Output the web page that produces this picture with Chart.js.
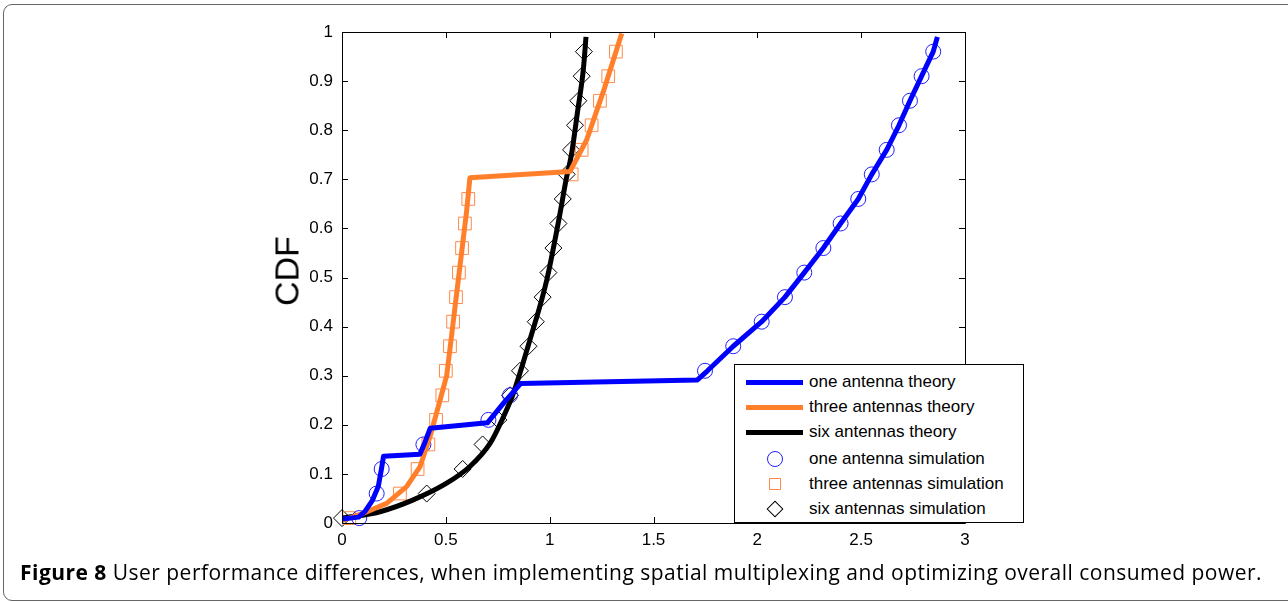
<!DOCTYPE html>
<html>
<head>
<meta charset="utf-8">
<script src="https://cdn.jsdelivr.net/npm/chart.js@4.4.1/dist/chart.umd.min.js"></script>
<style>
  html, body { margin: 0; padding: 0; background: #fff; overflow: hidden; }
  #wrap { position: relative; width: 1288px; height: 602px; }
  #frame { position: absolute; left: 3px; top: 4px; width: 1300px; height: 597px; border: 1.5px solid #666;
           border-radius: 9px; box-sizing: border-box; }
  canvas { position: absolute; left: 0; top: 0; }
  #ylabel { position: absolute; left: 287px; top: 271px; transform: translate(-50%, -50%) rotate(-90deg);
            font: 34px "Liberation Sans", Arial, sans-serif; color: #000; white-space: nowrap; }
  #legend { position: absolute; left: 734px; top: 364px; width: 290px; height: 159px; border: 1px solid #000;
            background: #fff; box-sizing: border-box; font: 17px "Liberation Sans", Arial, sans-serif; color: #000; }
  .row { position: absolute; left: 0; width: 100%; height: 24px; }
  .row span { position: absolute; left: 74px; top: 0; line-height: 24px; white-space: nowrap; }
  .swatch { position: absolute; left: 11px; top: 9.5px; width: 57px; height: 5px; }
  .mk { position: absolute; box-sizing: border-box; }
  #caption { position: absolute; left: 20px; top: 558px; font: 21px "Open Sans", sans-serif; white-space: nowrap; color: #000; }
  #caption b { font-weight: 700; }
</style>
</head>
<body>
<div id="wrap">
  <div id="frame"></div>
  <canvas id="cdf" width="1288" height="602"></canvas>
  <div id="ylabel">CDF</div>
  <div id="legend"></div>
  <div id="caption"><b>Figure 8</b> User performance differences, when implementing spatial multiplexing and optimizing overall consumed power.</div>
</div>
<script>
  // tick values / labels
  const xTickValues = [0, 0.5, 1, 1.5, 2, 2.5, 3];
  const xTickLabels = ['0', '0.5', '1', '1.5', '2', '2.5', '3'];
  const yTickValues = [0, 0.1, 0.2, 0.3, 0.4, 0.5, 0.6, 0.7, 0.8, 0.9, 1];
  const yTickLabels = ['0', '0.1', '0.2', '0.3', '0.4', '0.5', '0.6', '0.7', '0.8', '0.9', '1'];

  const seriesNames = ['one antenna theory', 'three antennas theory', 'six antennas theory',
                       'one antenna simulation', 'three antennas simulation', 'six antennas simulation'];

  // theory curves
  const oneThX = [0, 0.08, 0.11, 0.145, 0.175, 0.19, 0.2, 0.375, 0.40, 0.425, 0.70, 0.78, 0.86, 1.71, 1.76, 1.884,
                  2.021, 2.133, 2.226, 2.318, 2.401, 2.486, 2.551, 2.623, 2.682, 2.735, 2.791, 2.847, 2.867];
  const oneThY = [0.008, 0.012, 0.023, 0.045, 0.075, 0.11, 0.136, 0.14, 0.165, 0.193, 0.204, 0.245, 0.284, 0.291, 0.31, 0.36,
                  0.41, 0.46, 0.51, 0.56, 0.61, 0.66, 0.71, 0.76, 0.81, 0.86, 0.91, 0.96, 0.99];

  const threeThX = [0, 0.103, 0.215, 0.311, 0.376, 0.424, 0.472, 0.504, 0.52, 0.55, 0.58, 0.60, 0.616, 1.098, 1.178, 1.258, 1.347];
  const threeThY = [0.005, 0.02, 0.04, 0.074, 0.115, 0.176, 0.25, 0.30, 0.355, 0.46, 0.565, 0.635, 0.703, 0.716, 0.78, 0.878, 0.997];

  const sixThX = [0, 0.183, 0.343, 0.504, 0.616, 0.713, 0.777, 0.825, 0.905, 0.986, 1.05, 1.079, 1.106, 1.135, 1.162, 1.175];
  const sixThY = [0.01, 0.023, 0.047, 0.081, 0.115, 0.162, 0.216, 0.264, 0.373, 0.495, 0.631, 0.699, 0.753, 0.84, 0.923, 0.99];

  // simulation markers: shared CDF levels
  const simLevels = [0.01, 0.06, 0.11, 0.16, 0.21, 0.26, 0.31, 0.36, 0.41, 0.46,
                     0.51, 0.56, 0.61, 0.66, 0.71, 0.76, 0.81, 0.86, 0.91, 0.96];
  const oneSimX = [0.083, 0.167, 0.191, 0.392, 0.705, 0.809, 1.748, 1.884, 2.021, 2.133,
                   2.226, 2.318, 2.401, 2.486, 2.551, 2.623, 2.682, 2.735, 2.791, 2.847];
  const threeSimX = [0.035, 0.279, 0.364, 0.416, 0.453, 0.483, 0.50, 0.52, 0.535, 0.549,
                     0.563, 0.578, 0.592, 0.608, 1.106, 1.154, 1.202, 1.242, 1.282, 1.319];
  const sixSimX = [0, 0.408, 0.581, 0.677, 0.753, 0.809, 0.857, 0.898, 0.933, 0.966,
                   0.994, 1.018, 1.042, 1.063, 1.082, 1.103, 1.122, 1.138, 1.154, 1.165];

  const BLUE = '#0000ff', ORANGE = '#ff7f2a', BLACK = '#000000';

  const pts = (xs, ys) => xs.map((x, i) => ({ x: x, y: ys[i] }));

  function theory(label, xs, ys, color, smooth) {
    return {
      label: label, data: pts(xs, ys), showLine: true, borderColor: color, backgroundColor: color,
      borderWidth: 5, pointRadius: 0, tension: 0, borderJoinStyle: 'round',
      cubicInterpolationMode: smooth ? 'monotone' : 'default', order: 0
    };
  }
  function sim(label, xs, color, style, r) {
    return {
      label: label, data: pts(xs, simLevels), showLine: false, pointStyle: style, pointRadius: r,
      pointBorderWidth: 1, pointBorderColor: color, pointBackgroundColor: 'rgba(0,0,0,0)', clip: false, order: 1
    };
  }

  // inward MATLAB-style ticks on all four sides + box
  const boxTicks = {
    id: 'boxTicks',
    afterDraw(chart) {
      const { ctx, chartArea: a, scales: { x, y } } = chart;
      ctx.save();
      ctx.strokeStyle = '#000';
      ctx.lineWidth = 1;
      ctx.beginPath();
      xTickValues.forEach(v => {
        const px = Math.round(x.getPixelForValue(v)) + 0.5;
        ctx.moveTo(px, a.bottom); ctx.lineTo(px, a.bottom - 6);
        ctx.moveTo(px, a.top); ctx.lineTo(px, a.top + 6);
      });
      yTickValues.forEach(v => {
        const py = Math.round(y.getPixelForValue(v)) + 0.5;
        ctx.moveTo(a.left, py); ctx.lineTo(a.left + 6, py);
        ctx.moveTo(a.right, py); ctx.lineTo(a.right - 6, py);
      });
      ctx.rect(Math.round(a.left) + 0.5, Math.round(a.top) + 0.5, Math.round(a.right - a.left), Math.round(a.bottom - a.top));
      ctx.stroke();
      ctx.restore();
    }
  };

  const tickFont = { family: '"Liberation Sans", Arial, sans-serif', size: 17 };

  new Chart(document.getElementById('cdf').getContext('2d'), {
    type: 'scatter',
    data: {
      datasets: [
        theory(seriesNames[0], oneThX, oneThY, BLUE, false),
        theory(seriesNames[1], threeThX, threeThY, ORANGE, false),
        theory(seriesNames[2], sixThX, sixThY, BLACK, true),
        sim(seriesNames[3], oneSimX, '#2020ff', 'circle', 7.5),
        sim(seriesNames[4], threeSimX, '#ff8a4a', 'rect', 9),
        sim(seriesNames[5], sixSimX, BLACK, 'rectRot', 8.5)
      ]
    },
    options: {
      responsive: false,
      animation: false,
      layout: { padding: { left: 0, top: 32, right: 323, bottom: 0 } },
      plugins: { legend: { display: false }, tooltip: { enabled: false } },
      scales: {
        x: {
          type: 'linear', min: 0, max: 3,
          afterBuildTicks: s => { s.ticks = xTickValues.map(v => ({ value: v })); },
          afterFit: s => { s.height = 79; },
          grid: { display: false, drawTicks: false },
          border: { display: false },
          ticks: { font: tickFont, color: '#000', padding: 7, maxRotation: 0,
                   callback: (v, i) => xTickLabels[i] }
        },
        y: {
          type: 'linear', min: 0, max: 1,
          afterBuildTicks: s => { s.ticks = yTickValues.map(v => ({ value: v })); },
          afterFit: s => { s.width = 342; },
          grid: { display: false, drawTicks: false },
          border: { display: false },
          ticks: { font: tickFont, color: '#000', padding: 9,
                   callback: (v, i) => yTickLabels[i] }
        }
      }
    },
    plugins: [boxTicks]
  });

  // legend box (HTML, on top of the right axis like the original)
  const legend = document.getElementById('legend');
  const rowTops = [5, 30, 55, 82, 107, 132];
  const lineColors = [BLUE, ORANGE, BLACK];
  seriesNames.forEach((name, i) => {
    const row = document.createElement('div');
    row.className = 'row';
    row.style.top = rowTops[i] + 'px';
    if (i < 3) {
      const sw = document.createElement('div');
      sw.className = 'swatch';
      sw.style.background = lineColors[i];
      row.appendChild(sw);
    } else {
      const mk = document.createElement('div');
      mk.className = 'mk';
      if (i === 3) {
        Object.assign(mk.style, { left: '32px', top: '4px', width: '16px', height: '16px',
                                  border: '1px solid #2020ff', borderRadius: '50%' });
      } else if (i === 4) {
        Object.assign(mk.style, { left: '34px', top: '6px', width: '12px', height: '12px',
                                  border: '1px solid #ff8a4a' });
      } else {
        Object.assign(mk.style, { left: '34px', top: '6px', width: '12px', height: '12px',
                                  border: '1px solid #000', transform: 'rotate(45deg)' });
      }
      row.appendChild(mk);
    }
    const t = document.createElement('span');
    t.textContent = name;
    row.appendChild(t);
    legend.appendChild(row);
  });

  // stretch caption to the same width as in the original figure
  const cap = document.getElementById('caption');
  const capW = cap.getBoundingClientRect().width;
  const nChars = cap.textContent.length;
  cap.style.letterSpacing = ((1242 - capW) / nChars).toFixed(3) + 'px';
</script>
</body>
</html>
